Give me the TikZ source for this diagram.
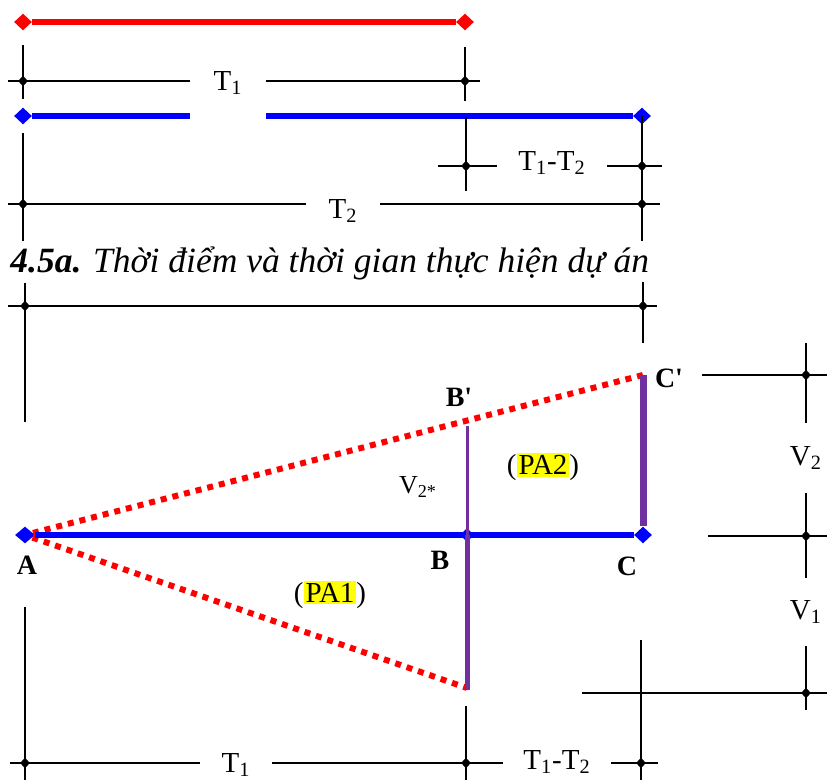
\documentclass[tikz,border=0pt]{standalone}
\usepackage{fontspec}
\setmainfont{Liberation Serif}
\usepackage{xcolor}
\definecolor{myred}{RGB}{255,0,0}
\definecolor{myblue}{RGB}{0,0,255}
\definecolor{mypurple}{RGB}{112,48,160}
\definecolor{myyellow}{RGB}{255,255,0}
\usetikzlibrary{shapes.geometric}
\newcommand{\hl}[1]{{\setlength{\fboxsep}{1pt}\colorbox{myyellow}{#1}}}

\begin{document}
\begin{tikzpicture}[x=0.5pt, y=-0.5pt,
    dim/.style={draw=black, line width=0.9pt},
    pkt/.style={diamond, fill=black, inner sep=0pt, minimum width=5pt, minimum height=5.5pt},
    gpkt/.style={diamond, fill=#1, inner sep=0pt, minimum width=9pt, minimum height=8.5pt},
    lab/.style={inner sep=0pt, font=\fontsize{14.5}{17}\selectfont},
    pktlab/.style={inner sep=0pt, font=\fontsize{14}{16}\selectfont\bfseries},
    dotline/.style={myred, line width=3pt, dash pattern=on 3pt off 3pt}]
    % Rahmen
    \useasboundingbox (0,0) rectangle (827,780);
    %%% Bild 4.5a
    % rote Linie
    \node[gpkt=myred] (r1) at (23,22) {};
    \node[gpkt=myred] (r2) at (465,22) {};
    \draw[myred, line width=3pt] (r1) -- (r2);
    % Mass T1
    \node[lab, minimum width=38pt] (t1o) at (228,83) {T\textsubscript{1}};
    \coordinate (t1l) at (8,81); \coordinate (t1r) at (480,81);
    \draw[dim] (t1l) -- (t1o.west |- t1l) (t1o.east |- t1l) -- (t1r);
    \draw[dim] (23,45) -- (23,99) (465,47) -- (465,101);
    % blaue Linie
    \node[gpkt=myblue] (b1) at (23,116) {};
    \node[gpkt=myblue] (b2) at (642,116) {};
    \draw[myblue, line width=3pt] (b1) -- (t1o.west |- b1) (t1o.east |- b1) -- (b2);
    % Mass T1-T2
    \draw[dim] (466,117) -- (466,191) (642,116) -- (642,241);
    \node[lab, minimum width=54.5pt] (d1o) at (552,163) {T\textsubscript{1}-T\textsubscript{2}};
    \coordinate (d1l) at (438,166); \coordinate (d1r) at (662,166);
    \draw[dim] (d1l) -- (d1o.west |- d1l) (d1o.east |- d1l) -- (d1r);
    % Mass T2
    \draw[dim] (23,133) -- (23,241);
    \node[lab, minimum width=36.5pt] (t2o) at (343,211) {T\textsubscript{2}};
    \coordinate (t2l) at (8,204); \coordinate (t2r) at (660,204);
    \draw[dim] (t2l) -- (t2o.west |- t2l) (t2o.east |- t2l) -- (t2r);
    % Bildunterschrift
    \node[anchor=west, inner sep=0pt, font=\fontsize{17.75}{20}\selectfont\itshape] (cap) at (10,263)
        {\textbf{4.5a.} Thời điểm và thời gian thực hiện dự án};
    %%% Bild 4.5b
    % Mass oben
    \coordinate (ol) at (8,306); \coordinate (or) at (657,306);
    \draw[dim] (ol) -- (or);
    \draw[dim] (25,283) -- (25,422) (643,282) -- (643,343);
    % Punkte A, B, C
    \node[gpkt=myblue, minimum width=10pt] (A) at (25,535) {};
    \node[gpkt=myblue, minimum width=7pt, minimum height=7pt] (B) at (467,535) {};
    \node[gpkt=myblue] (C) at (643,535) {};
    \coordinate (Bs) at (467,426);
    \coordinate (Cs) at (643,375);
    \coordinate (D) at (467,688);
    % Linien
    \draw[dotline] (A) -- (Cs);
    \draw[dotline] (A) -- (D);
    \draw[myblue, line width=3pt] (A) -- (C);
    \draw[mypurple, line width=1.5pt] (Bs) -- (B.center);
    \draw[mypurple, line width=2.5pt] (B.center) -- (467,690);
    \draw[mypurple, line width=3.5pt] (Cs) -- (C.north);
    % Beschriftung
    \node[pktlab] (lA) at (27,565) {A};
    \node[pktlab] (lB) at (440,560) {B};
    \node[pktlab] (lC) at (627,566) {C};
    \node[pktlab] (lBs) at (459,397) {B\textquotesingle};
    \node[pktlab] (lCs) at (669,378) {C\textquotesingle};
    \node[lab] (pa1) at (330,595) {(\hl{PA1})};
    \node[lab] (pa2) at (543,467) {(\hl{PA2})};
    \node[lab, font=\fontsize{13}{15}\selectfont] (v2s) at (418,487) {V\textsubscript{2*}};
    % Mass V1, V2
    \draw[dim] (702,375) -- (827,375) (708,536) -- (827,536) (582,693) -- (827,693);
    \node[lab, minimum height=35pt] (v2o) at (806,458) {V\textsubscript{2}};
    \node[lab, minimum height=33.5pt] (v1o) at (806,612) {V\textsubscript{1}};
    \coordinate (vt) at (806,343); \coordinate (vb) at (806,710);
    \draw[dim] (vt) -- (v2o.north) (v2o.south) -- (v1o.north) (v1o.south) -- (vb);
    % Mass unten
    \draw[dim] (25,607) -- (25,780) (466,706) -- (466,780) (641,640) -- (641,780);
    \node[lab, minimum width=36pt] (t1u) at (236,765) {T\textsubscript{1}};
    \node[lab, minimum width=54pt] (d1u) at (557,762) {T\textsubscript{1}-T\textsubscript{2}};
    \coordinate (ul) at (10,763); \coordinate (ur) at (658,763);
    \draw[dim] (ul) -- (t1u.west |- ul) (t1u.east |- ul) -- (d1u.west |- ul) (d1u.east |- ul) -- (ur);
    % schwarze Punkte
    \foreach \x/\y [count=\i] in {23/81, 465/81, 466/166, 642/166, 23/204, 642/204, 25/306, 643/306,
        806/375, 806/536, 806/693, 25/763, 466/763, 641/763}
        \node[pkt] (p\i) at (\x,\y) {};
\end{tikzpicture}
\end{document}
